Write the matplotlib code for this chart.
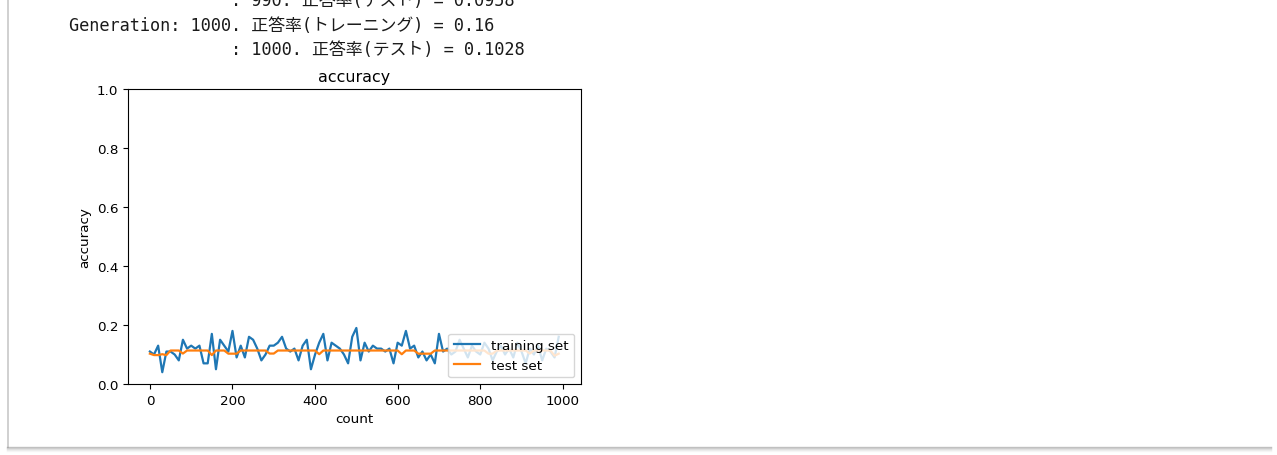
import matplotlib
matplotlib.use("Agg")
import matplotlib.pyplot as plt
from matplotlib.lines import Line2D
import numpy as np

# ---- data ----
plot_interval = 10
counts = list(range(0, 1000, plot_interval))

train_acc = [
    0.11, 0.10, 0.13, 0.04, 0.11, 0.11, 0.10, 0.08, 0.15, 0.12,
    0.13, 0.12, 0.13, 0.07, 0.07, 0.17, 0.05, 0.15, 0.13, 0.11,
    0.18, 0.09, 0.13, 0.09, 0.16, 0.15, 0.12, 0.08, 0.10, 0.13,
    0.13, 0.14, 0.16, 0.12, 0.11, 0.12, 0.08, 0.13, 0.15, 0.05,
    0.10, 0.14, 0.17, 0.08, 0.14, 0.13, 0.12, 0.10, 0.07, 0.16,
    0.19, 0.08, 0.14, 0.11, 0.13, 0.12, 0.12, 0.11, 0.12, 0.07,
    0.14, 0.13, 0.18, 0.12, 0.13, 0.09, 0.11, 0.08, 0.10, 0.07,
    0.17, 0.11, 0.12, 0.10, 0.11, 0.15, 0.12, 0.09, 0.13, 0.11,
    0.10, 0.14, 0.12, 0.08, 0.11, 0.13, 0.10, 0.12, 0.09, 0.14,
    0.11, 0.07, 0.12, 0.10, 0.13, 0.08, 0.12, 0.11, 0.09, 0.16,
]

test_acc = [
    0.1028, 0.098, 0.098, 0.1010, 0.098, 0.1135, 0.1135, 0.1135, 0.1032, 0.1135,
    0.1135, 0.1135, 0.1135, 0.1135, 0.1135, 0.098, 0.1135, 0.1135, 0.1135, 0.1028,
    0.1028, 0.1028, 0.1135, 0.1135, 0.1135, 0.1135, 0.1135, 0.1135, 0.1135, 0.1032,
    0.1032, 0.1135, 0.1135, 0.1135, 0.1135, 0.1135, 0.1135, 0.1135, 0.1135, 0.1135,
    0.1135, 0.1010, 0.1135, 0.1135, 0.1135, 0.1135, 0.1135, 0.1135, 0.1135, 0.1135,
    0.1135, 0.1135, 0.1135, 0.1135, 0.1135, 0.1135, 0.1135, 0.1135, 0.1135, 0.1135,
    0.1135, 0.1009, 0.1135, 0.1135, 0.1135, 0.1028, 0.1028, 0.1028, 0.1028, 0.1135,
    0.1135, 0.1135, 0.1135, 0.1135, 0.1135, 0.1135, 0.1135, 0.1135, 0.1135, 0.1135,
    0.1135, 0.1135, 0.1028, 0.1028, 0.1135, 0.1135, 0.1135, 0.1135, 0.1135, 0.1135,
    0.1135, 0.1135, 0.1032, 0.1135, 0.1135, 0.1135, 0.1135, 0.1135, 0.0958, 0.1028,
]

log_lines = [
    "                : 990. 正答率(テスト) = 0.0958",
    "Generation: 1000. 正答率(トレーニング) = 0.16",
    "                : 1000. 正答率(テスト) = 0.1028",
]

W, H = 1277, 456
fig = plt.figure(figsize=(W / 100, H / 100), dpi=100)
fig.patch.set_facecolor("white")

# notebook log text
mono = ["DejaVu Sans Mono", "Noto Sans CJK JP"]
baselines = [6, 31, 55]
for line, yb in zip(log_lines, baselines):
    fig.text(69 / W, 1 - yb / H, line, family=mono, fontsize=12.2,
             va="baseline", ha="left", color="#1a1a1a")

# left border and bottom shadow of the notebook cell
fig.add_artist(Line2D([7.5 / W, 7.5 / W], [8 / H, 1], transform=fig.transFigure,
                      color="#c8c8c8", lw=1.2))
for i, a in enumerate([0.45, 0.3, 0.18, 0.1, 0.05]):
    yy = (8 - i) / H
    fig.add_artist(Line2D([7 / W, 1271 / W], [yy, yy], transform=fig.transFigure,
                          color="#808080", alpha=a, lw=1))

# axes
fs = 9.7
ax = fig.add_axes([128 / W, 71 / H, 453 / W, 295 / H])
ax.plot(counts, train_acc, label="training set", color="#1f77b4", lw=1.6)
ax.plot(counts, test_acc, label="test set", color="#ff7f0e", lw=1.6)
ax.set_ylim(0, 1.0)
ax.set_xlim(-53, 1044)
ax.set_title("accuracy", fontsize=11.4)
ax.set_xlabel("count", fontsize=fs)
ax.set_ylabel("accuracy", fontsize=fs)
ax.tick_params(labelsize=fs)
ax.legend(loc="lower right", fontsize=fs)

fig.savefig("out.png", dpi=100)
